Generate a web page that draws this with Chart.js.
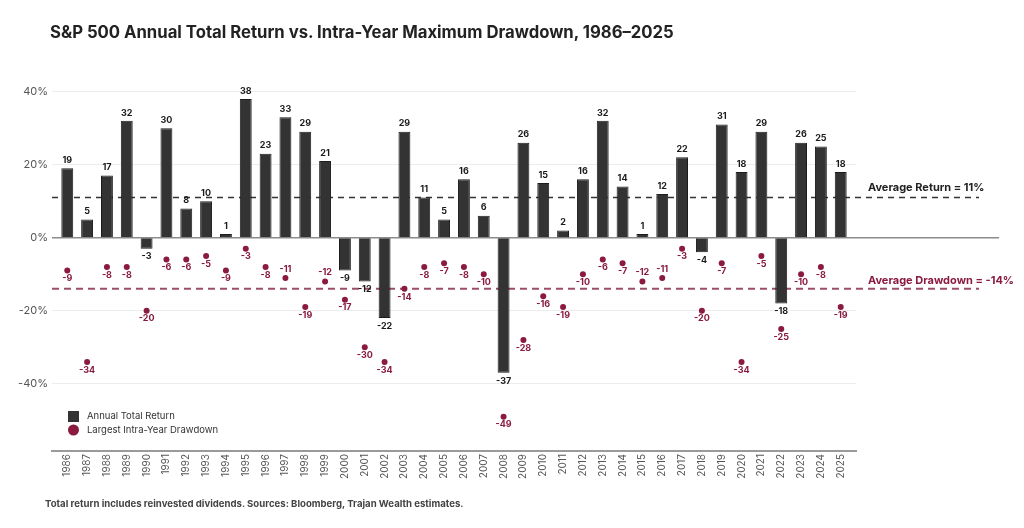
<!DOCTYPE html>
<html>
<head>
<meta charset="utf-8">
<script src="https://cdn.jsdelivr.net/npm/chart.js@4.4.1/dist/chart.umd.min.js"></script>
<style>
  html, body { margin:0; padding:0; background:#fff; }
  #wrap { position:relative; width:1024px; height:528px; overflow:hidden; }
  #title { position:absolute; left:50px; top:22px; font:700 16.7px Inter, sans-serif; color:#222; white-space:nowrap; }
  #note { position:absolute; left:45px; top:498px; font:700 9.6px Inter, sans-serif; color:#444; white-space:nowrap; }
  canvas { position:absolute; left:0; top:0; }
</style>
</head>
<body>
<div id="wrap">
  <canvas id="chart" width="1024" height="528"></canvas>
  <div id="title">S&amp;P 500 Annual Total Return vs. Intra-Year Maximum Drawdown, 1986–2025</div>
  <div id="note">Total return includes reinvested dividends. Sources: Bloomberg, Trajan Wealth estimates.</div>
</div>
<script>
// --- data ---
const years = [1986,1987,1988,1989,1990,1991,1992,1993,1994,1995,1996,1997,1998,1999,2000,
  2001,2002,2003,2004,2005,2006,2007,2008,2009,2010,2011,2012,2013,2014,2015,2016,2017,2018,
  2019,2020,2021,2022,2023,2024,2025];
const totalReturn = [19,5,17,32,-3,30,8,10,1,38,23,33,29,21,-9,-12,-22,29,11,5,16,6,-37,26,15,
  2,16,32,14,1,12,22,-4,31,18,29,-18,26,25,18];
const maxDrawdown = [-9,-34,-8,-8,-20,-6,-6,-5,-9,-3,-8,-11,-19,-12,-17,-30,-34,-14,-8,-7,-8,
  -10,-49,-28,-16,-19,-10,-6,-7,-12,-11,-3,-20,-7,-34,-5,-25,-10,-8,-19];
const avgReturn = 11;
const avgDrawdown = -14;
const yTicks = [-40,-20,0,20,40];

const DARK = '#333333';
const MAROON = '#8a1a3e';
const FONT = 'Inter, sans-serif';

// zero line + average lines (behind the bars)
const refLines = {
  id:'refLines',
  beforeDatasetsDraw(chart){
    const {ctx, chartArea:a, scales:{y}} = chart;
    ctx.save();
    // zero line runs past the plot
    ctx.strokeStyle = '#8c8c8c';
    ctx.lineWidth = 1.5;
    ctx.beginPath();
    ctx.moveTo(a.left, y.getPixelForValue(0));
    ctx.lineTo(999, y.getPixelForValue(0));
    ctx.stroke();

    let yy = y.getPixelForValue(avgReturn);
    ctx.setLineDash([6,5]);
    ctx.lineWidth = 1.5;
    ctx.strokeStyle = '#333';
    ctx.beginPath(); ctx.moveTo(a.left, yy); ctx.lineTo(979, yy); ctx.stroke();
    yy = y.getPixelForValue(avgDrawdown);
    ctx.setLineDash([7,5]);
    ctx.lineWidth = 2;
    ctx.strokeStyle = '#9c4d68';
    ctx.beginPath(); ctx.moveTo(a.left, yy); ctx.lineTo(979, yy); ctx.stroke();
    ctx.restore();
  },
  afterDraw(chart){
    const {ctx, scales:{y}} = chart;
    ctx.save();
    ctx.font = '700 11px ' + FONT;
    ctx.textBaseline = 'bottom';
    ctx.textAlign = 'left';
    ctx.fillStyle = '#222';
    ctx.fillText('Average Return = ' + avgReturn + '%', 868, y.getPixelForValue(avgReturn) - 4);
    ctx.fillStyle = MAROON;
    ctx.fillText('Average Drawdown = ' + avgDrawdown + '%', 868, y.getPixelForValue(avgDrawdown) - 3);
    ctx.restore();
  }
};

// value labels on bars and dots
const valueLabels = {
  id:'valueLabels',
  afterDatasetsDraw(chart){
    const ctx = chart.ctx;
    ctx.save();
    ctx.font = '700 9px ' + FONT;
    ctx.textAlign = 'center';
    ctx.textBaseline = 'middle';
    chart.getDatasetMeta(0).data.forEach((bar, i) => {
      const v = totalReturn[i];
      ctx.fillStyle = '#1a1a1a';
      ctx.fillText(String(v), bar.x, v >= 0 ? bar.y - 8 : bar.y + 8);
    });
    chart.getDatasetMeta(1).data.forEach((pt, i) => {
      const v = maxDrawdown[i];
      const above = v > -13 && v < -10.5;
      ctx.fillStyle = MAROON;
      ctx.fillText(String(v), pt.x, above ? pt.y - 9 : pt.y + 8);
    });
    ctx.restore();
  }
};

// legend in the lower-left corner of the plot
const cornerLegend = {
  id:'cornerLegend',
  afterDraw(chart){
    const ctx = chart.ctx;
    const ds = chart.data.datasets;
    ctx.save();
    ctx.font = '400 9.5px ' + FONT;
    ctx.textBaseline = 'middle';
    ctx.textAlign = 'left';
    ctx.fillStyle = ds[0].backgroundColor;
    ctx.fillRect(68, 411, 11, 11);
    ctx.fillStyle = ds[1].pointBackgroundColor;
    ctx.beginPath(); ctx.arc(73.5, 430, 5.5, 0, Math.PI*2); ctx.fill();
    ctx.fillStyle = '#333';
    ctx.fillText(ds[0].label, 87, 416.5);
    ctx.fillText(ds[1].label, 87, 430);
    ctx.restore();
  }
};

new Chart(document.getElementById('chart'), {
  type:'bar',
  data:{
    labels: years,
    datasets:[
      {
        label:'Annual Total Return',
        data: totalReturn,
        backgroundColor: DARK,
        borderColor:'#1c1c1c',
        borderWidth:1,
        barPercentage:0.6,
        categoryPercentage:1,
        order:1
      },
      {
        type:'line',
        label:'Largest Intra-Year Drawdown',
        data: maxDrawdown,
        showLine:false,
        pointRadius:3,
        pointBorderWidth:0,
        pointBackgroundColor: MAROON,
        order:0
      }
    ]
  },
  options:{
    responsive:false,
    animation:false,
    layout:{padding:{top:77, right:168, bottom:0, left:0}},
    plugins:{legend:{display:false}, tooltip:{enabled:false}},
    scales:{
      x:{
        type:'linear',
        offset:false,
        min:1985.23,
        max:2025.77,
        afterBuildTicks: s => { s.ticks = years.map(v => ({value:v})); },
        afterFit: s => { s.height = 77; },
        ticks:{autoSkip:false, minRotation:90, maxRotation:90, padding:3,
          callback: v => String(v), color:'#555', font:{family:FONT, size:10}},
        grid:{display:false, drawTicks:false},
        border:{display:true, color:'#9a9a9a', width:2}
      },
      y:{
        min:-58.4,
        max:44,
        afterBuildTicks: s => { s.ticks = yTicks.map(v => ({value:v})); },
        afterFit: s => { s.width = 52; },
        ticks:{callback: v => v + '%', color:'#555', padding:4, font:{family:FONT, size:11}},
        grid:{color:'#ececec', drawTicks:false},
        border:{display:false}
      }
    }
  },
  plugins:[refLines, valueLabels, cornerLegend]
});
</script>
</body>
</html>
